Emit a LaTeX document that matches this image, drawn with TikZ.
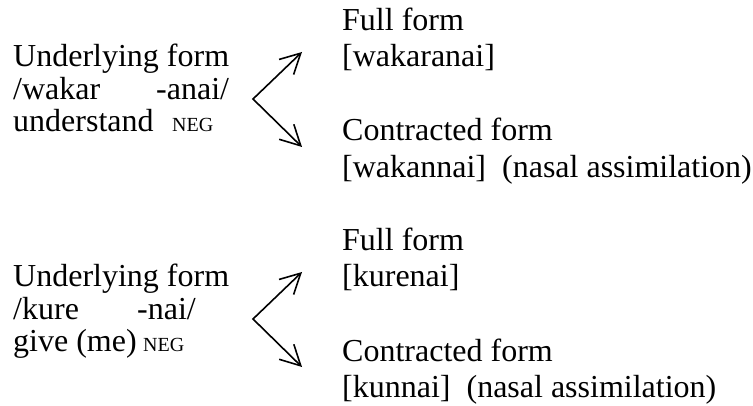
\documentclass[tikz,border=0pt]{standalone}
\usepackage{fontspec}
\setmainfont{Liberation Serif}
\usetikzlibrary{arrows.meta}

\tikzset{
  txt/.style={anchor=base west, inner sep=0pt, font=\fontsize{32}{32}\selectfont},
  gram/.style={anchor=base west, inner sep=0pt, font=\fontsize{20}{20}\selectfont},
  branch/.style={line width=1.6pt, line join=miter,
    {Straight Barb[length=20pt,width=21pt]}-{Straight Barb[length=20pt,width=21pt]}}
}

\begin{document}
\begin{tikzpicture}[x=1pt,y=-1pt]
\useasboundingbox (0,0) rectangle (753,406);
% wakaranai
\node[txt] (under1) at (13,67) {Underlying form};
\node[txt] (stem1) at (13,99.5) {/wakar};
\node[txt] (suff1) at (156,99.5) {-anai/};
\node[txt] (gloss1) at (13,132) {understand};
\node[gram] (neg1) at (172,132) {NEG};
\node[txt] (full1) at (342,31) {Full form};
\node[txt] (fullf1) at (342,67) {[wakaranai]};
\node[txt] (contr1) at (342,141) {Contracted form};
\node[txt] (contrf1) at (342,177.5) {[wakannai]\ \ (nasal assimilation)};
\coordinate (fork1) at (253,99);
\coordinate (up1) at (302,52);
\coordinate (down1) at (302,147);
\draw[branch] (up1) -- (fork1) -- (down1);
% kurenai
\node[txt] (under2) at (13,287) {Underlying form};
\node[txt] (stem2) at (13,319.5) {/kure};
\node[txt] (suff2) at (137,319.5) {-nai/};
\node[txt] (gloss2) at (13,352) {give (me)};
\node[gram] (neg2) at (143,352) {NEG};
\node[txt] (full2) at (342,251) {Full form};
\node[txt] (fullf2) at (342,287) {[kurenai]};
\node[txt] (contr2) at (342,361) {Contracted form};
\node[txt] (contrf2) at (342,397.5) {[kunnai]\ \ (nasal assimilation)};
\coordinate (fork2) at (253,319);
\coordinate (up2) at (302,272);
\coordinate (down2) at (302,367);
\draw[branch] (up2) -- (fork2) -- (down2);
\end{tikzpicture}
\end{document}
